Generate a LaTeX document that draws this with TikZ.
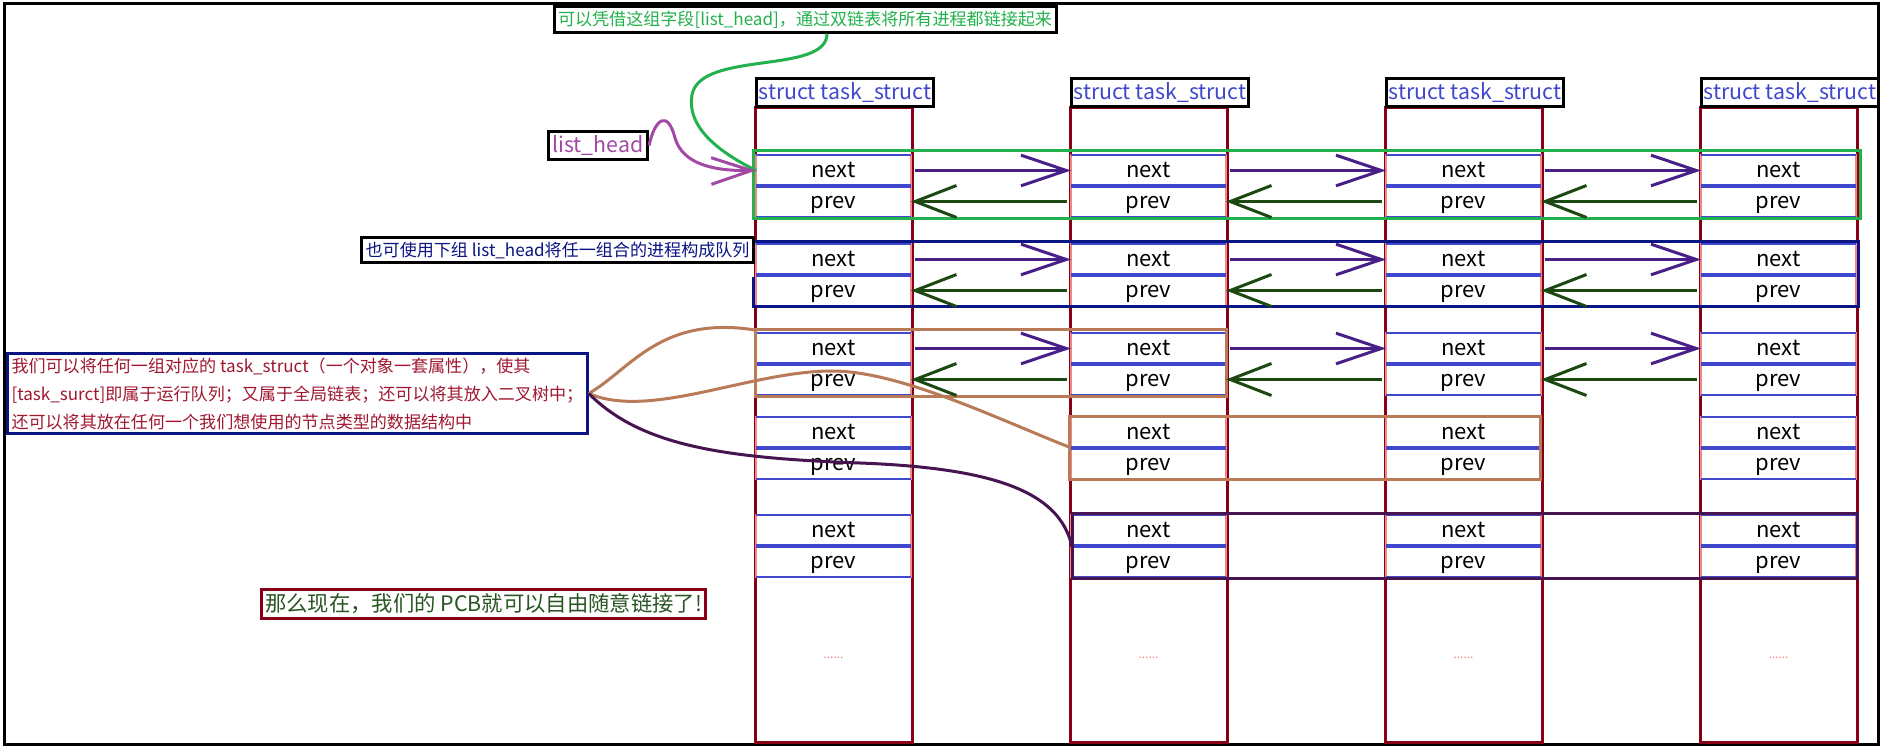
\documentclass[tikz,border=0pt]{standalone}
\usepackage{fontspec}
\setmainfont{Noto Sans CJK SC}
\usepackage{tikz}
\usetikzlibrary{arrows.meta}
\usetikzlibrary{positioning}
\usetikzlibrary{calc}

\definecolor{pcbred}{RGB}{136,0,21}
\definecolor{fieldblue}{RGB}{63,72,204}
\definecolor{fieldpink}{RGB}{242,135,135}
\definecolor{linkgreen}{RGB}{34,177,76}
\definecolor{headpurple}{RGB}{163,73,164}
\definecolor{nextindigo}{RGB}{72,30,135}
\definecolor{prevgreen}{RGB}{28,72,18}
\definecolor{queuenavy}{RGB}{10,20,130}
\definecolor{treebrown}{RGB}{185,122,87}
\definecolor{anyplum}{RGB}{70,20,80}
\definecolor{notered}{RGB}{160,24,48}
\definecolor{donegreen}{RGB}{40,85,35}

\newcommand{\bigfont}{\fontsize{16}{18}\selectfont}
\newcommand{\notefont}{\fontsize{12.8}{21}\selectfont}

% one list_head: next over prev
\newcommand{\cellpair}[3]{%
  \node[field, anchor=north west] (n#1) at (#2,#3) {next};
  \node[field, below=0pt of n#1] (p#1) {prev};
  \draw[cellside] (n#1.north west) rectangle (p#1.south east);
  \draw[bluethin] (n#1.north west) -- (n#1.north east);
  \draw[bluethick] (n#1.south west) -- (n#1.south east);
  \draw[bluethin] (p#1.south west) -- (p#1.south east);
}

\begin{document}
\begin{tikzpicture}[x=0.75pt,y=-0.75pt,
    pcb/.style={draw=pcbred, line width=2.25pt, fill=white, minimum width=117.75pt,
      minimum height=475.5pt, inner sep=0pt, outer sep=0pt},
    structlab/.style={draw=black, line width=2.25pt, fill=white, text=fieldblue,
      font=\bigfont, inner sep=1.5pt, minimum height=21pt},
    field/.style={minimum width=116.25pt, minimum height=23.25pt, inner sep=0pt,
      outer sep=0pt, font=\fontsize{16.5}{18}\selectfont, text height=12.5pt, text depth=2pt},
    cellside/.style={draw=fieldpink, line width=2pt},
    bluethin/.style={draw=fieldblue, line width=1.5pt},
    bluethick/.style={draw=fieldblue, line width=3.5pt},
    notebox/.style={line width=2.25pt, fill=white, font=\notefont, inner sep=3pt},
    dots/.style={text=fieldpink, font=\fontsize{9}{9}\selectfont, inner sep=0pt},
    nextlink/.style={nextindigo, line width=2.25pt, shorten <=3pt,
      -{Straight Barb[length=34pt,width=23pt]}},
    prevlink/.style={prevgreen, line width=2.25pt, shorten <=3pt,
      -{Straight Barb[length=31pt,width=24pt]}},
    curve/.style={line width=2.25pt}]

    \useasboundingbox (0,0) rectangle (1882,748);
    \draw[line width=2.25pt] (4,4) rectangle (1878,744);

    % x-position of the four task_struct
    \def\xa{755}
    \def\xb{1070}
    \def\xc{1385}
    \def\xd{1700}

    % y-position of the list_head rows
    \def\ya{155}
    \def\yb{244}
    \def\yc{333}
    \def\yd{417}
    \def\ye{515}

    % task_struct boxes
    \node[pcb, anchor=north west] (c1) at (\xa,108) {};
    \node[pcb, anchor=north west] (c2) at (\xb,108) {};
    \node[pcb, anchor=north west] (c3) at (\xc,108) {};
    \node[pcb, anchor=north west] (c4) at (\xd,108) {};
    \node[structlab, anchor=south west] (s1) at (c1.north west) {struct task\_struct};
    \node[structlab, anchor=south west] (s2) at (c2.north west) {struct task\_struct};
    \node[structlab, anchor=south west] (s3) at (c3.north west) {struct task\_struct};
    \node[structlab, anchor=south west] (s4) at (c4.north west) {struct task\_struct};
    \node[dots] (d1) at (\xa+78.5,658) {......};
    \node[dots] (d2) at (\xb+78.5,658) {......};
    \node[dots] (d3) at (\xc+78.5,658) {......};
    \node[dots] (d4) at (\xd+78.5,658) {......};

    % list_head fields
    \cellpair{11}{\xa+1}{\ya}
    \cellpair{21}{\xb+1}{\ya}
    \cellpair{31}{\xc+1}{\ya}
    \cellpair{41}{\xd+1}{\ya}
    \cellpair{12}{\xa+1}{\yb}
    \cellpair{22}{\xb+1}{\yb}
    \cellpair{32}{\xc+1}{\yb}
    \cellpair{42}{\xd+1}{\yb}
    \cellpair{13}{\xa+1}{\yc}
    \cellpair{23}{\xb+1}{\yc}
    \cellpair{33}{\xc+1}{\yc}
    \cellpair{43}{\xd+1}{\yc}
    \cellpair{14}{\xa+1}{\yd}
    \cellpair{24}{\xb+1}{\yd}
    \cellpair{34}{\xc+1}{\yd}
    \cellpair{44}{\xd+1}{\yd}
    \cellpair{15}{\xa+1}{\ye}
    \cellpair{25}{\xb+1}{\ye}
    \cellpair{35}{\xc+1}{\ye}
    \cellpair{45}{\xd+1}{\ye}

    % groups
    \draw[linkgreen, line width=2.25pt] (753,151) rectangle (1860,219);
    \draw[queuenavy, line width=2.25pt] (753,277) -- (753,307) -- (1858,307) -- (1858,242) -- (755,242);
    \draw[treebrown, line width=2.25pt] (755,330) rectangle (1226,397);
    \draw[treebrown, line width=2.25pt] (1069,417) rectangle (1540,480);
    \draw[anyplum, line width=2.25pt] (1072,513) rectangle (1857,578);
    \coordinate (tree1) at (755,330);
    \coordinate (tree2) at (1069,447);
    \coordinate (any1) at (1072,547);

    % next / prev links
    \draw[nextlink] (n11.east) -- (n21.west);
    \draw[nextlink] (n21.east) -- (n31.west);
    \draw[nextlink] (n31.east) -- (n41.west);
    \draw[prevlink] (p21.west) -- (p11.east);
    \draw[prevlink] (p31.west) -- (p21.east);
    \draw[prevlink] (p41.west) -- (p31.east);
    \draw[nextlink] (n12.east) -- (n22.west);
    \draw[nextlink] (n22.east) -- (n32.west);
    \draw[nextlink] (n32.east) -- (n42.west);
    \draw[prevlink] (p22.west) -- (p12.east);
    \draw[prevlink] (p32.west) -- (p22.east);
    \draw[prevlink] (p42.west) -- (p32.east);
    \draw[nextlink] (n13.east) -- (n23.west);
    \draw[nextlink] (n23.east) -- (n33.west);
    \draw[nextlink] (n33.east) -- (n43.west);
    \draw[prevlink] (p23.west) -- (p13.east);
    \draw[prevlink] (p33.west) -- (p23.east);
    \draw[prevlink] (p43.west) -- (p33.east);

    % notes
    \node[notebox, draw=black, text=linkgreen] (how) at (805,19.5)
      {可以凭借这组字段[list\_head]，通过双链表将所有进程都链接起来};
    \node[notebox, draw=black, text=headpurple, font=\bigfont] (lh) at (598,145.5) {list\_head};
    \node[notebox, draw=black, text=queuenavy, anchor=east] (queue) at (755,250)
      {也可使用下组 list\_head将任一组合的进程构成队列};
    \node[notebox, draw=queuenavy, text=notered, align=left, anchor=west] (why) at (6,393.5)
      {我们可以将任何一组对应的 task\_struct（一个对象一套属性），使其\\
       {[}task\_surct{]}即属于运行队列；又属于全局链表；还可以将其放入二叉树中；\\
       还可以将其放在任何一个我们想使用的节点类型的数据结构中};
    \node[notebox, draw=pcbred, text=donegreen, font=\bigfont] (done) at (483.5,604)
      {那么现在，我们的 PCB就可以自由随意链接了!};

    % pointers from the notes
    \draw[linkgreen, curve] ([xshift=16.5pt]how.south) .. controls (827,75) and (700,50) .. (692,95)
      .. controls (686,130) and (725,155) .. (n11.west);
    \draw[headpurple, curve, -{Straight Barb[length=30pt,width=20pt]}] (lh.east)
      .. controls (655,118) and (668,110) .. (675,138) .. controls (683,165) and (715,171) .. (n11.west);
    \draw[treebrown, curve] (why.east) .. controls (630,370) and (660,315) .. (tree1);
    \draw[treebrown, curve] (why.east) .. controls (650,420) and (750,371) .. (832,371)
      .. controls (900,371) and (1000,420) .. (tree2);
    \draw[anyplum, curve] (why.east) .. controls (640,445) and (720,458) .. (860,463)
      .. controls (990,468) and (1060,490) .. (any1);
\end{tikzpicture}
\end{document}
